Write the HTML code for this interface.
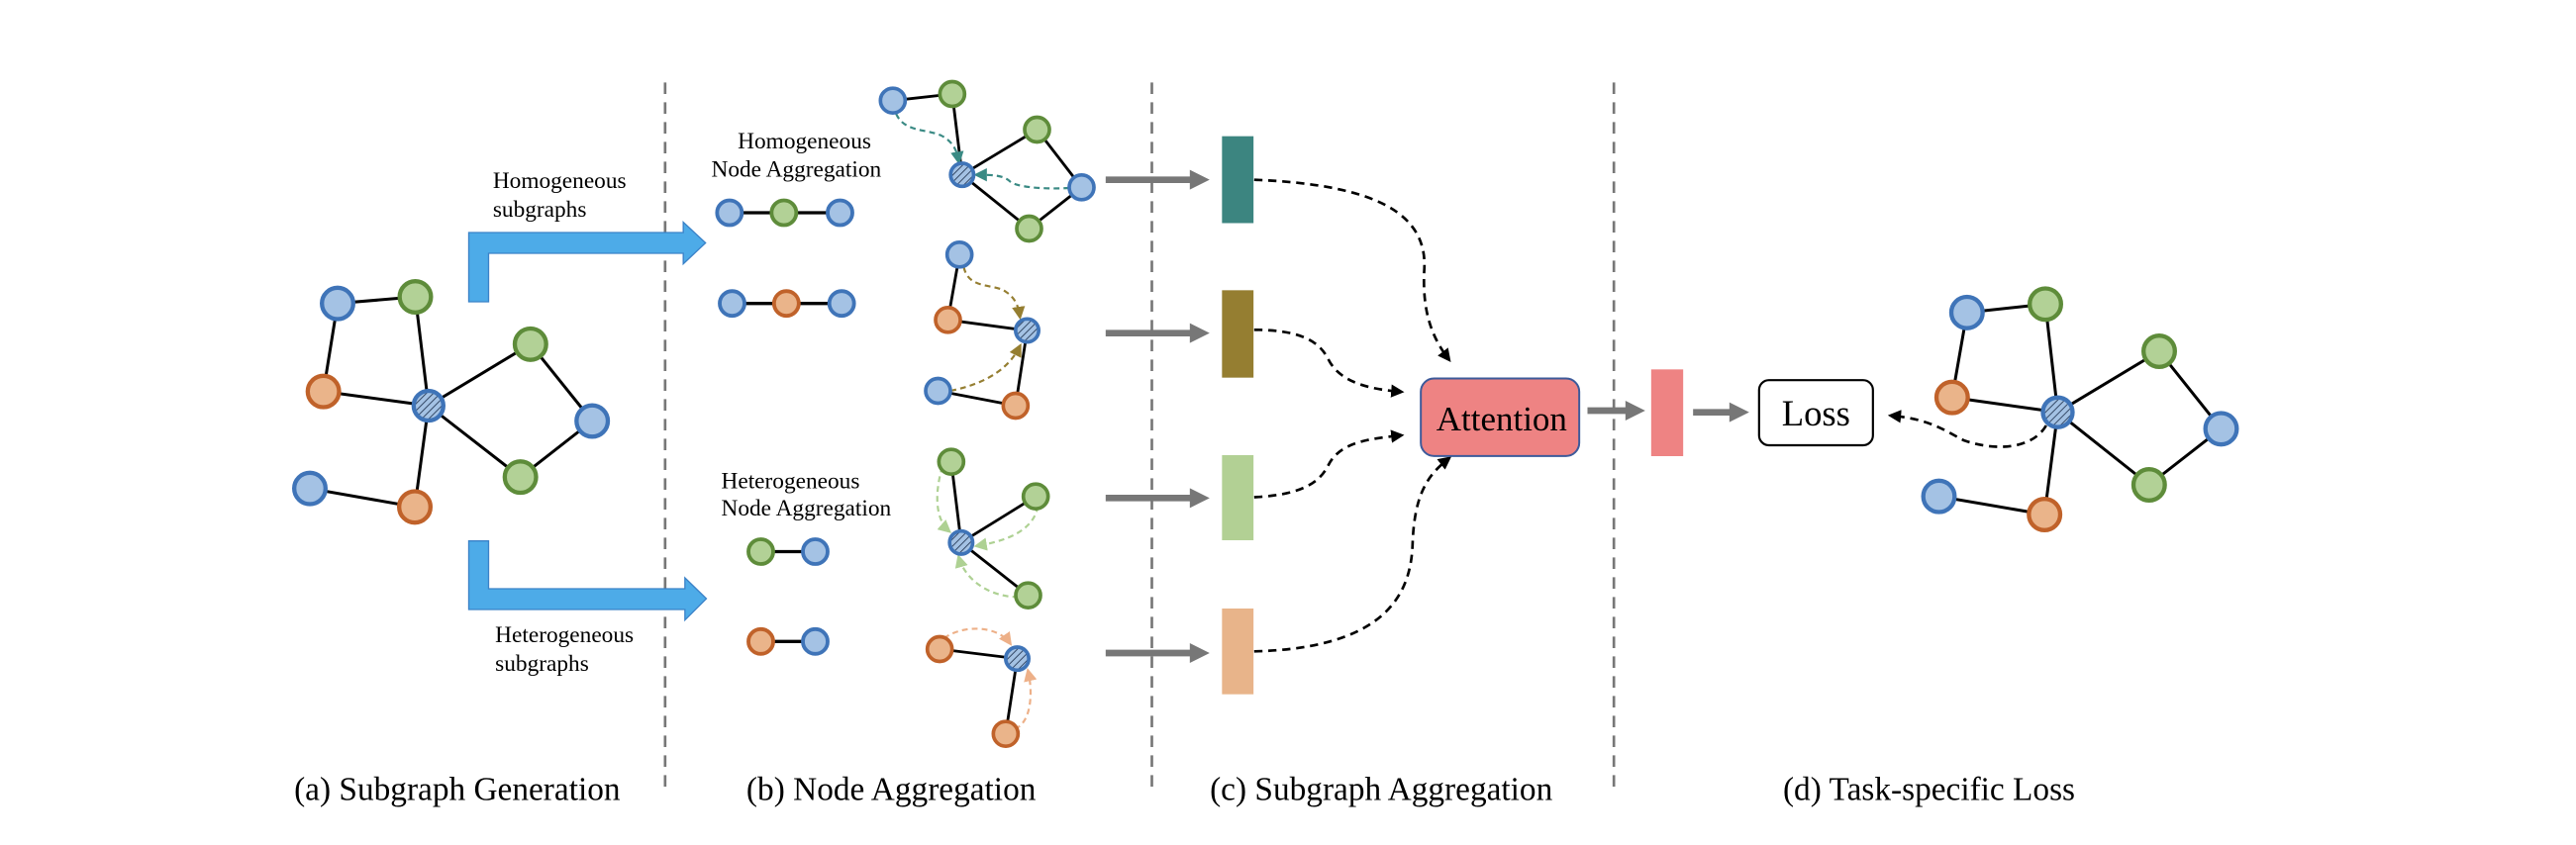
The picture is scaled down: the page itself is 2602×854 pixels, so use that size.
<!DOCTYPE html>
<html><head><meta charset="utf-8"><style>
html,body{margin:0;padding:0;background:#fff;}
svg{display:block;font-family:"Liberation Serif","Times New Roman",Times,serif;}
svg text{font-family:"Liberation Serif","Times New Roman",Times,serif;fill:#000;}
</style></head><body>
<svg width="2602" height="854" viewBox="0 0 1561 512.4" xmlns="http://www.w3.org/2000/svg" font-family="Liberation Serif, Times New Roman, serif">
<defs>
<pattern id="h" patternUnits="userSpaceOnUse" width="3" height="3" patternTransform="rotate(45)">
<rect width="3" height="3" fill="#A4C2E4"/><line x1="0" y1="0" x2="0" y2="3" stroke="#2b3f5c" stroke-width="1.1"/>
</pattern>
<marker id="ak" markerWidth="8" markerHeight="8" refX="6" refY="4" orient="auto" markerUnits="userSpaceOnUse"><path d="M0,0 L8,4 L0,8 z" fill="#000"/></marker>
<marker id="at" markerWidth="8" markerHeight="8" refX="6" refY="4" orient="auto" markerUnits="userSpaceOnUse"><path d="M0,0 L8,4 L0,8 z" fill="#3A8A84"/></marker>
<marker id="ao" markerWidth="8" markerHeight="8" refX="6" refY="4" orient="auto" markerUnits="userSpaceOnUse"><path d="M0,0 L8,4 L0,8 z" fill="#957E31"/></marker>
<marker id="ag" markerWidth="8" markerHeight="8" refX="6" refY="4" orient="auto" markerUnits="userSpaceOnUse"><path d="M0,0 L8,4 L0,8 z" fill="#AED193"/></marker>
<marker id="ap" markerWidth="8" markerHeight="8" refX="6" refY="4" orient="auto" markerUnits="userSpaceOnUse"><path d="M0,0 L8,4 L0,8 z" fill="#EDB088"/></marker>
</defs>

<g stroke="#777" stroke-width="1.6" stroke-dasharray="7,5">
<line x1="403" y1="50" x2="403" y2="480"/>
<line x1="698" y1="50" x2="698" y2="480"/>
<line x1="978" y1="50" x2="978" y2="480"/>
</g>

<g stroke="#000" stroke-width="1.8">
<line x1="204.5" y1="184" x2="251.6" y2="180"/>
<line x1="204.5" y1="184" x2="195.9" y2="237.4"/>
<line x1="195.9" y1="237.4" x2="259.6" y2="246"/>
<line x1="251.6" y1="180" x2="259.6" y2="246"/>
<line x1="259.6" y1="246" x2="321.4" y2="208.7"/>
<line x1="321.4" y1="208.7" x2="358.8" y2="255.3"/>
<line x1="358.8" y1="255.3" x2="315.3" y2="289.3"/>
<line x1="315.3" y1="289.3" x2="259.6" y2="246"/>
<line x1="259.6" y1="246" x2="251.3" y2="307.4"/>
<line x1="187.7" y1="296.2" x2="251.3" y2="307.4"/>
</g>
<g stroke-width="2.6">
<circle cx="204.5" cy="184" r="9.5" fill="#A4C2E4" stroke="#3F74B8"/>
<circle cx="251.6" cy="180" r="9.5" fill="#B2D196" stroke="#5E8C3A"/>
<circle cx="195.9" cy="237.4" r="9.5" fill="#EAB48A" stroke="#C0622A"/>
<circle cx="259.6" cy="246" r="9" fill="url(#h)" stroke="#3F74B8"/>
<circle cx="321.4" cy="208.7" r="9.5" fill="#B2D196" stroke="#5E8C3A"/>
<circle cx="358.8" cy="255.3" r="9.5" fill="#A4C2E4" stroke="#3F74B8"/>
<circle cx="315.3" cy="289.3" r="9.5" fill="#B2D196" stroke="#5E8C3A"/>
<circle cx="187.7" cy="296.2" r="9.5" fill="#A4C2E4" stroke="#3F74B8"/>
<circle cx="251.3" cy="307.4" r="9.5" fill="#EAB48A" stroke="#C0622A"/>
</g>

<path d="M284,183 L284,141 L414,141 L414,134.7 L427.5,147.3 L414,160 L414,153.6 L296,153.6 L296,183 Z" fill="#4DABE8" stroke="#3B82C8" stroke-width="0.8"/>
<path d="M284,328 L296,328 L296,357 L415,357 L415,350.4 L428,363 L415,376 L415,369.6 L284,369.6 Z" fill="#4DABE8" stroke="#3B82C8" stroke-width="0.8"/>

<text x="298.6" y="114" font-size="14" font-family="Liberation Serif, serif">Homogeneous</text>
<text x="298.6" y="131.5" font-size="14" font-family="Liberation Serif, serif">subgraphs</text>
<text x="300" y="389.5" font-size="14" font-family="Liberation Serif, serif">Heterogeneous</text>
<text x="300" y="406.7" font-size="14" font-family="Liberation Serif, serif">subgraphs</text>

<text x="447" y="90" font-size="14" font-family="Liberation Serif, serif">Homogeneous</text>
<text x="431" y="107" font-size="14" font-family="Liberation Serif, serif">Node Aggregation</text>
<text x="437" y="296" font-size="14" font-family="Liberation Serif, serif">Heterogeneous</text>
<text x="437" y="312.7" font-size="14" font-family="Liberation Serif, serif">Node Aggregation</text>

<g stroke="#000" stroke-width="2">
<line x1="442" y1="129" x2="509" y2="129"/>
<line x1="443.6" y1="184" x2="510" y2="184"/>
<line x1="461" y1="334.5" x2="494" y2="334.5"/>
<line x1="461" y1="389" x2="494" y2="389"/>
</g>
<g stroke-width="2.3">
<circle cx="442" cy="129" r="7.5" fill="#A4C2E4" stroke="#3F74B8"/>
<circle cx="475" cy="129" r="7.5" fill="#B2D196" stroke="#5E8C3A"/>
<circle cx="509" cy="129" r="7.5" fill="#A4C2E4" stroke="#3F74B8"/>
<circle cx="443.6" cy="184" r="7.5" fill="#A4C2E4" stroke="#3F74B8"/>
<circle cx="476.5" cy="184" r="7.5" fill="#EAB48A" stroke="#C0622A"/>
<circle cx="510" cy="184" r="7.5" fill="#A4C2E4" stroke="#3F74B8"/>
<circle cx="461" cy="334.5" r="7.5" fill="#B2D196" stroke="#5E8C3A"/>
<circle cx="494" cy="334.5" r="7.5" fill="#A4C2E4" stroke="#3F74B8"/>
<circle cx="461" cy="389" r="7.5" fill="#EAB48A" stroke="#C0622A"/>
<circle cx="494" cy="389" r="7.5" fill="#A4C2E4" stroke="#3F74B8"/>
</g>

<g stroke="#000" stroke-width="1.7">
<line x1="541" y1="61" x2="577" y2="57"/>
<line x1="577" y1="57" x2="583" y2="106"/>
<line x1="583" y1="106" x2="628.4" y2="78.6"/>
<line x1="628.4" y1="78.6" x2="655.4" y2="113.6"/>
<line x1="655.4" y1="113.6" x2="623.6" y2="138.6"/>
<line x1="623.6" y1="138.6" x2="583" y2="106"/>
</g>
<g fill="none" stroke="#3A8A84" stroke-width="1.3" stroke-dasharray="3.5,2.5">
<path d="M543,69 C548,80 560,78 570,82 C578,86 580,92 581,98" marker-end="url(#at)"/>
<path d="M648,114 C630,115 615,113 612,110 C608,106 600,106 592,106" marker-end="url(#at)"/>
</g>
<g stroke-width="2.2">
<circle cx="541" cy="61" r="7.5" fill="#A4C2E4" stroke="#3F74B8"/>
<circle cx="577" cy="57" r="7.5" fill="#B2D196" stroke="#5E8C3A"/>
<circle cx="583" cy="106" r="7" fill="url(#h)" stroke="#3F74B8"/>
<circle cx="628.4" cy="78.6" r="7.5" fill="#B2D196" stroke="#5E8C3A"/>
<circle cx="655.4" cy="113.6" r="7.5" fill="#A4C2E4" stroke="#3F74B8"/>
<circle cx="623.6" cy="138.6" r="7.5" fill="#B2D196" stroke="#5E8C3A"/>
</g>

<g stroke="#000" stroke-width="1.7">
<line x1="581.4" y1="154.4" x2="574.4" y2="194"/>
<line x1="574.4" y1="194" x2="622.4" y2="200.4"/>
<line x1="622.4" y1="200.4" x2="615.4" y2="246"/>
<line x1="568.4" y1="237" x2="615.4" y2="246"/>
</g>
<g fill="none" stroke="#957E31" stroke-width="1.3" stroke-dasharray="3.5,2.5">
<path d="M584,162 C587,175 600,172 608,176 C615,180 617,185 618,192" marker-end="url(#ao)"/>
<path d="M576,237 C600,232 612,222 618,210" marker-end="url(#ao)"/>
</g>
<g stroke-width="2.2">
<circle cx="581.4" cy="154.4" r="7.5" fill="#A4C2E4" stroke="#3F74B8"/>
<circle cx="574.4" cy="194" r="7.5" fill="#EAB48A" stroke="#C0622A"/>
<circle cx="622.4" cy="200.4" r="7" fill="url(#h)" stroke="#3F74B8"/>
<circle cx="568.4" cy="237" r="7.5" fill="#A4C2E4" stroke="#3F74B8"/>
<circle cx="615.4" cy="246" r="7.5" fill="#EAB48A" stroke="#C0622A"/>
</g>

<g stroke="#000" stroke-width="1.7">
<line x1="576.4" y1="280" x2="582.4" y2="329"/>
<line x1="627.6" y1="301" x2="582.4" y2="329"/>
<line x1="623" y1="361" x2="582.4" y2="329"/>
</g>
<g fill="none" stroke="#AED193" stroke-width="1.3" stroke-dasharray="3.5,2.5">
<path d="M571,283 C566,300 567,315 575,322" marker-end="url(#ag)"/>
<path d="M629,307 C626,322 610,328 592,331" marker-end="url(#ag)"/>
<path d="M617,362 C600,362 585,352 581,338" marker-end="url(#ag)"/>
</g>
<g stroke-width="2.2">
<circle cx="576.4" cy="280" r="7.5" fill="#B2D196" stroke="#5E8C3A"/>
<circle cx="627.6" cy="301" r="7.5" fill="#B2D196" stroke="#5E8C3A"/>
<circle cx="582.4" cy="329" r="7" fill="url(#h)" stroke="#3F74B8"/>
<circle cx="623" cy="361" r="7.5" fill="#B2D196" stroke="#5E8C3A"/>
</g>

<g stroke="#000" stroke-width="1.7">
<line x1="569.4" y1="393.6" x2="616.4" y2="399.4"/>
<line x1="616.4" y1="399.4" x2="609.4" y2="445"/>
</g>
<g fill="none" stroke="#EDB088" stroke-width="1.3" stroke-dasharray="3.5,2.5">
<path d="M572,387 C585,378 605,380 612,390" marker-end="url(#ap)"/>
<path d="M615,442 C625,438 626,420 623,407" marker-end="url(#ap)"/>
</g>
<g stroke-width="2.2">
<circle cx="569.4" cy="393.6" r="7.5" fill="#EAB48A" stroke="#C0622A"/>
<circle cx="616.4" cy="399.4" r="7" fill="url(#h)" stroke="#3F74B8"/>
<circle cx="609.4" cy="445" r="7.5" fill="#EAB48A" stroke="#C0622A"/>
</g>

<g fill="#777">
<path d="M670,107 L721,107 L721,103 L733,109 L721,115 L721,111 L670,111 Z"/>
<path d="M670,200 L721,200 L721,196 L733,202 L721,208 L721,204 L670,204 Z"/>
<path d="M670,300 L721,300 L721,296 L733,302 L721,308 L721,304 L670,304 Z"/>
<path d="M670,394 L721,394 L721,390 L733,396 L721,402 L721,398 L670,398 Z"/>
<path d="M962,247 L985,247 L985,243 L997,249 L985,255 L985,251 L962,251 Z"/>
<path d="M1026,248 L1048,248 L1048,244 L1060,250 L1048,256 L1048,252 L1026,252 Z"/>
</g>

<rect x="740.5" y="82.6" width="19.1" height="52.7" fill="#3C8580"/>
<rect x="740.5" y="176" width="19.1" height="53" fill="#957E31"/>
<rect x="740.5" y="276" width="19.1" height="51.6" fill="#B2D094"/>
<rect x="740.5" y="369" width="19.1" height="52" fill="#E8B48A"/>

<g fill="none" stroke="#000" stroke-width="1.6" stroke-dasharray="5,3.5">
<path d="M760,109 C835,112 866,130 863,165 C862,190 868,205 878,218" marker-end="url(#ak)"/>
<path d="M760,200 C790,200 800,208 805,218 C812,232 830,236 849,237.6" marker-end="url(#ak)"/>
<path d="M760,301.5 C790,300 800,292 805,282 C812,268 830,266 849,264" marker-end="url(#ak)"/>
<path d="M760,395 C840,393 855,360 856,330 C857,300 865,288 878,278" marker-end="url(#ak)"/>
</g>

<rect x="861" y="229.5" width="96" height="47" rx="8" fill="#EE8383" stroke="#3D5A9A" stroke-width="1.2"/>
<text x="910" y="261" font-size="21" text-anchor="middle" font-family="Liberation Serif, serif">Attention</text>

<rect x="1000.6" y="224" width="19.4" height="52.6" fill="#EE8383"/>

<rect x="1066" y="230.5" width="69" height="39.5" rx="6" fill="#fff" stroke="#000" stroke-width="1.3"/>
<text x="1100.5" y="258" font-size="22" text-anchor="middle" font-family="Liberation Serif, serif">Loss</text>

<g stroke="#000" stroke-width="1.8">
<line x1="1192" y1="189.5" x2="1239.5" y2="184.4"/>
<line x1="1192" y1="189.5" x2="1183" y2="241"/>
<line x1="1183" y1="241" x2="1247" y2="250"/>
<line x1="1239.5" y1="184.4" x2="1247" y2="250"/>
<line x1="1247" y1="250" x2="1308.5" y2="213"/>
<line x1="1308.5" y1="213" x2="1346" y2="260"/>
<line x1="1346" y1="260" x2="1302.4" y2="294"/>
<line x1="1302.4" y1="294" x2="1247" y2="250"/>
<line x1="1247" y1="250" x2="1239" y2="312"/>
<line x1="1175" y1="301" x2="1239" y2="312"/>
</g>
<path d="M1240,258 C1232,272 1210,274 1190,267 C1180,262 1170,254 1146,252" fill="none" stroke="#000" stroke-width="1.6" stroke-dasharray="5,3.5" marker-end="url(#ak)"/>
<g stroke-width="2.6">
<circle cx="1192" cy="189.5" r="9.5" fill="#A4C2E4" stroke="#3F74B8"/>
<circle cx="1239.5" cy="184.4" r="9.5" fill="#B2D196" stroke="#5E8C3A"/>
<circle cx="1183" cy="241" r="9.5" fill="#EAB48A" stroke="#C0622A"/>
<circle cx="1247" cy="250" r="9" fill="url(#h)" stroke="#3F74B8"/>
<circle cx="1308.5" cy="213" r="9.5" fill="#B2D196" stroke="#5E8C3A"/>
<circle cx="1346" cy="260" r="9.5" fill="#A4C2E4" stroke="#3F74B8"/>
<circle cx="1302.4" cy="294" r="9.5" fill="#B2D196" stroke="#5E8C3A"/>
<circle cx="1175" cy="301" r="9.5" fill="#A4C2E4" stroke="#3F74B8"/>
<circle cx="1239" cy="312" r="9.5" fill="#EAB48A" stroke="#C0622A"/>
</g>

<text x="277" y="485" font-size="20" text-anchor="middle" font-family="Liberation Serif, serif">(a) Subgraph Generation</text>
<text x="540" y="485" font-size="20" text-anchor="middle" font-family="Liberation Serif, serif">(b) Node Aggregation</text>
<text x="837" y="485" font-size="20" text-anchor="middle" font-family="Liberation Serif, serif">(c) Subgraph Aggregation</text>
<text x="1169" y="485" font-size="20" text-anchor="middle" font-family="Liberation Serif, serif">(d) Task-specific Loss</text>
</svg>
</body></html>
